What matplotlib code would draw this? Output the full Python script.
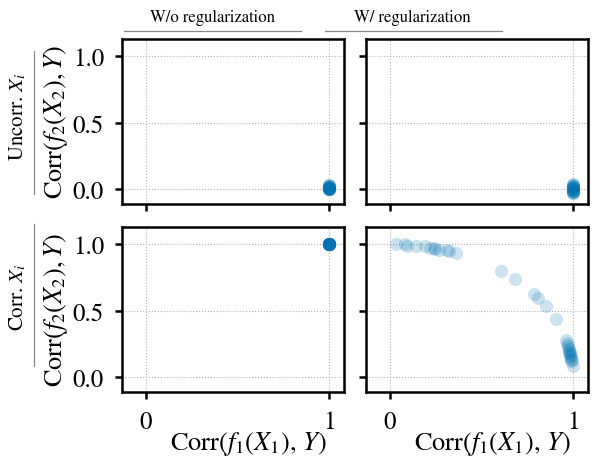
import matplotlib
matplotlib.use('Agg')
import matplotlib.pyplot as plt
from matplotlib.lines import Line2D

plt.rcParams['font.family'] = ['STIXGeneral', 'Liberation Serif', 'DejaVu Serif']
plt.rcParams['mathtext.fontset'] = 'stix'

BLUE = '#0173b2'

# data: (corr f1, corr f2) for each run
uncorr_noreg_x = [1.0, 1.0, 0.999, 1.0, 0.998, 1.0, 1.0, 0.999, 1.0, 1.0,
                  1.0, 0.999, 1.0, 1.0, 0.998, 1.0, 1.0, 1.0, 0.999, 1.0]
uncorr_noreg_y = [0.0, 0.005, 0.01, 0.02, 0.03, 0.0, 0.015, 0.025, 0.005, 0.01,
                  0.0, 0.02, 0.03, 0.01, 0.0, 0.005, 0.025, 0.015, 0.0, 0.01]
uncorr_reg_x = [1.0, 1.0, 0.999, 1.0, 0.998, 1.0, 1.0, 0.999, 1.0, 1.0,
                1.0, 0.999, 1.0, 1.0, 0.998, 1.0, 1.0, 1.0, 0.999, 1.0]
uncorr_reg_y = [-0.03, -0.02, -0.01, 0.0, 0.01, 0.02, 0.03, 0.04, -0.015, 0.005,
                -0.025, 0.015, 0.025, -0.005, 0.0, 0.01, -0.01, 0.035, 0.02, -0.02]
corr_noreg_x = [1.0, 1.0, 1.0, 1.0, 1.0, 1.0, 1.0, 1.0, 1.0, 1.0,
                1.0, 1.0, 1.0, 1.0, 1.0, 1.0, 1.0, 1.0, 1.0, 1.0]
corr_noreg_y = [1.0, 1.0, 1.0, 1.0, 1.0, 1.0, 1.0, 1.0, 1.0, 1.0,
                1.0, 1.0, 1.0, 1.0, 1.0, 1.0, 1.0, 1.0, 1.0, 1.0]
corr_reg_x = [0.031, 0.085, 0.094, 0.145, 0.194, 0.217, 0.239, 0.248, 0.266,
              0.312, 0.32, 0.362, 0.605, 0.683, 0.783, 0.81, 0.85, 0.906,
              0.958, 0.967, 0.973, 0.976, 0.98, 0.985, 0.992, 0.997,
              0.97, 0.975, 0.978, 0.982, 0.984, 0.988, 0.99]
corr_reg_y = [1.0, 1.0, 0.99, 0.987, 0.987, 0.975, 0.973, 0.968, 0.956,
              0.956, 0.948, 0.931, 0.8, 0.738, 0.627, 0.593, 0.533, 0.437,
              0.281, 0.257, 0.24, 0.215, 0.19, 0.166, 0.134, 0.084,
              0.23, 0.2, 0.18, 0.17, 0.15, 0.14, 0.12]

col_titles = ['W/o regularization', 'W/ regularization']
row_titles = ['Uncorr. $X_i$', 'Corr. $X_i$']
xlabel = r'$\mathrm{Corr}(f_1(X_1),\, Y)$'
ylabel = r'$\mathrm{Corr}(f_2(X_2), Y)$'

panels = [[(uncorr_noreg_x, uncorr_noreg_y), (uncorr_reg_x, uncorr_reg_y)],
          [(corr_noreg_x, corr_noreg_y), (corr_reg_x, corr_reg_y)]]

fig = plt.figure(figsize=(5.95, 4.6), dpi=100)
lefts = [122 / 595, 366 / 595]
bottoms = [(460 - 205) / 460, (460 - 393) / 460]
w, h = 222 / 595, 165 / 460

for r in range(2):
    for c in range(2):
        ax = fig.add_axes([lefts[c], bottoms[r], w, h])
        xs, ys = panels[r][c]
        ax.scatter(xs, ys, s=90, color=BLUE, alpha=0.2, linewidth=0, zorder=3)
        ax.set_xlim(-0.13, 1.08)
        ax.set_ylim(-0.11, 1.13)
        ax.set_xticks([0, 1])
        ax.set_yticks([0.0, 0.5, 1.0])
        ax.grid(True, linestyle=':', color='#b0b0b0', linewidth=0.8)
        for s in ax.spines.values():
            s.set_linewidth(1.8)
        ax.tick_params(width=1.8, length=5, labelsize=18, pad=8)
        if r == 0:
            ax.set_xticklabels([])
        else:
            ax.set_xlabel(xlabel, fontsize=19)
            ax.xaxis.set_label_coords(0.57, -0.225)
        if c == 0:
            ax.set_yticklabels(['0.0', '0.5', '1.0'])
            ax.set_ylabel(ylabel, fontsize=19, labelpad=2)
        else:
            ax.set_yticklabels([])

# column headers with a rule underneath
for cx, x0, x1, t in [(212, 124, 301, col_titles[0]), (412, 325, 502, col_titles[1])]:
    fig.text(cx / 595, 1 - 18 / 460, t, ha='center', va='center', fontsize=12)
    fig.add_artist(Line2D([x0 / 595, x1 / 595], [1 - 32 / 460] * 2,
                          color='#888888', linewidth=0.9))

# row headers with a rule to the right
for cy, y0, y1, t in [(117, 52, 195, row_titles[0]), (297, 225, 367, row_titles[1])]:
    fig.text(18 / 595, 1 - cy / 460, t, ha='center', va='center', fontsize=15,
             rotation=90)
    fig.add_artist(Line2D([34 / 595] * 2, [1 - y0 / 460, 1 - y1 / 460],
                          color='#888888', linewidth=0.9))

fig.savefig('out.png', dpi=100)
